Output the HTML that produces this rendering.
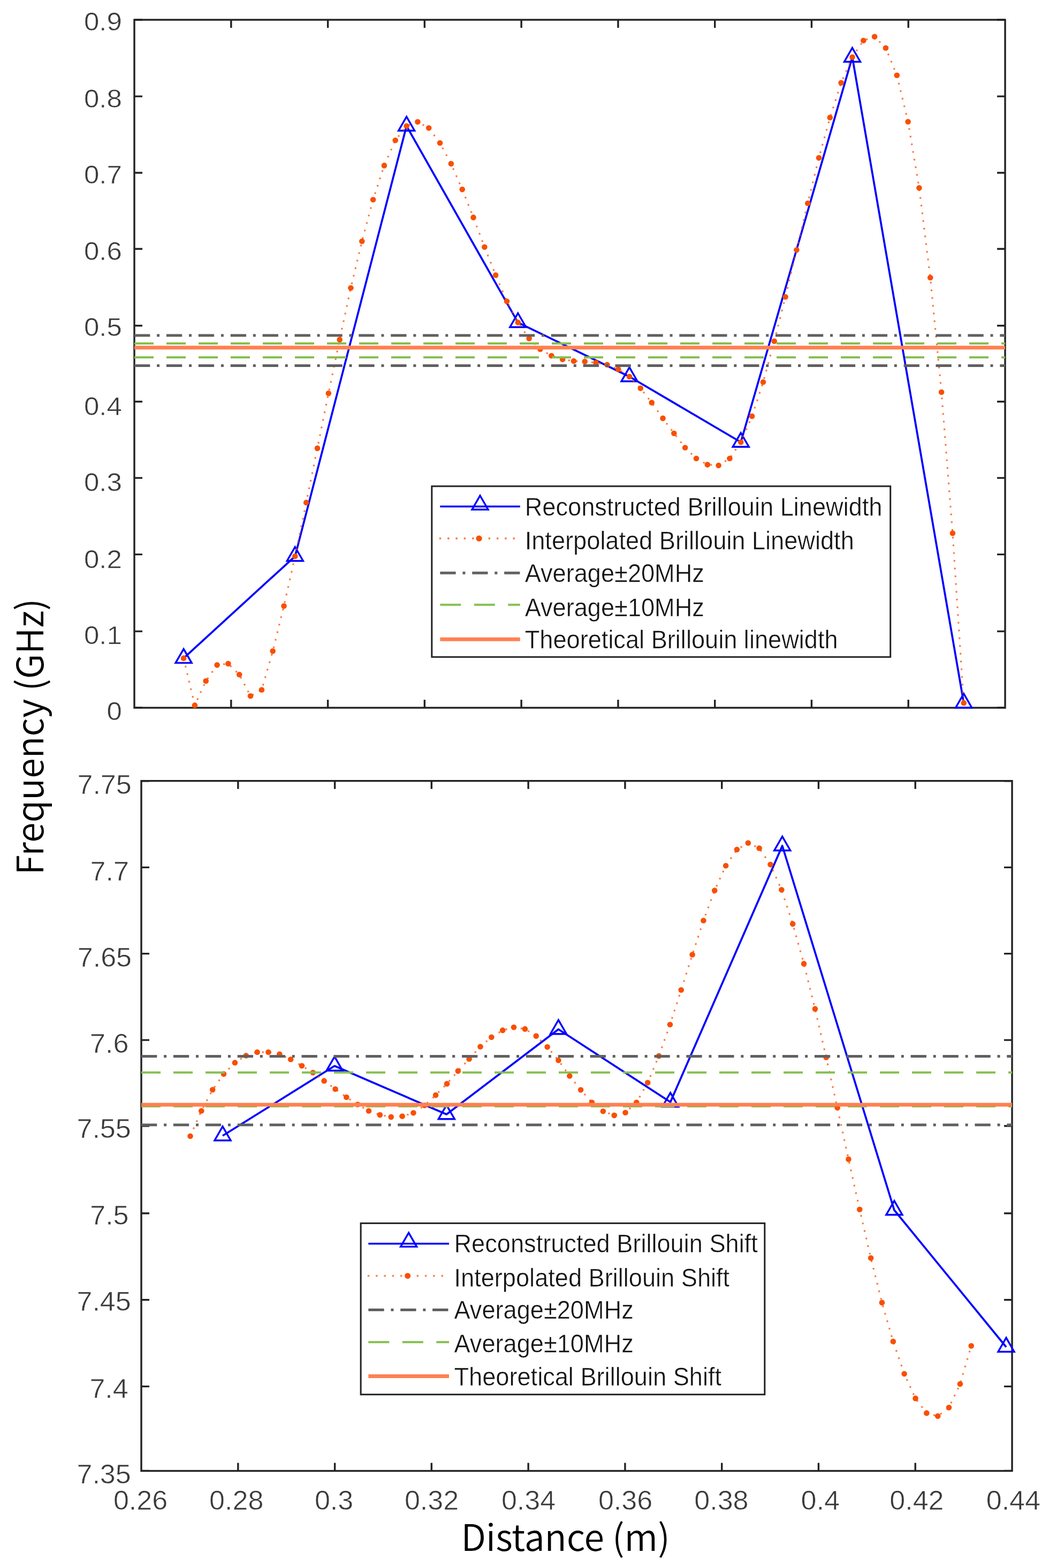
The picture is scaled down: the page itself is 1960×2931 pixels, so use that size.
<!DOCTYPE html>
<html><head><meta charset="utf-8"><title>Brillouin linewidth and shift</title>
<style>
html,body{margin:0;padding:0;background:#fff;}
svg{display:block;}
.tk{font-family:"Liberation Sans",Arial,sans-serif;fill:#3a3a3a;stroke:#fff;stroke-width:0.6px;}
.lg{font-family:"Liberation Sans",Arial,sans-serif;font-size:47.2px;fill:#111;stroke:#fff;stroke-width:0.5px;}
.ax{font-family:"Noto Sans CJK SC","Liberation Sans",sans-serif;font-weight:350;font-size:68px;fill:#000;}
</style></head>
<body>
<svg width="1960" height="2931" viewBox="0 0 1960 2931">
<rect width="1960" height="2931" fill="#fff"/>
<rect x="251.0" y="37.0" width="1627.0" height="1286.0" fill="none" stroke="#222222" stroke-width="3.4"/>
<path d="M251.0 37.0h15M1878.0 37.0h-15M251.0 180.1h15M1878.0 180.1h-15M251.0 323.0h15M1878.0 323.0h-15M251.0 465.3h15M1878.0 465.3h-15M251.0 608.8h15M1878.0 608.8h-15M251.0 750.8h15M1878.0 750.8h-15M251.0 893.4h15M1878.0 893.4h-15M251.0 1036.4h15M1878.0 1036.4h-15M251.0 1180.1h15M1878.0 1180.1h-15M251.0 1322.6h15M1878.0 1322.6h-15M431.8 1323.0v-15M431.8 37.0v15M612.6 1323.0v-15M612.6 37.0v15M793.3 1323.0v-15M793.3 37.0v15M974.1 1323.0v-15M974.1 37.0v15M1154.9 1323.0v-15M1154.9 37.0v15M1335.7 1323.0v-15M1335.7 37.0v15M1516.4 1323.0v-15M1516.4 37.0v15M1697.2 1323.0v-15M1697.2 37.0v15" stroke="#222222" stroke-width="3.4" fill="none"/>
<polyline points="343.1,1230.4 551.3,1039.8 759.6,235.5 967.8,602.8 1176.0,704.0 1384.2,826.5 1592.5,106.8 1800.7,1314.0" fill="none" stroke="#0000FF" stroke-width="3.7" stroke-linejoin="round"/>
<path d="M343.1 1213.1L358.1 1239.1L328.1 1239.1Z" fill="none" stroke="#0000FF" stroke-width="3.4" stroke-linejoin="miter"/>
<path d="M551.3 1022.5L566.3 1048.5L536.3 1048.5Z" fill="none" stroke="#0000FF" stroke-width="3.4" stroke-linejoin="miter"/>
<path d="M759.6 218.2L774.6 244.2L744.6 244.2Z" fill="none" stroke="#0000FF" stroke-width="3.4" stroke-linejoin="miter"/>
<path d="M967.8 585.5L982.8 611.5L952.8 611.5Z" fill="none" stroke="#0000FF" stroke-width="3.4" stroke-linejoin="miter"/>
<path d="M1176.0 686.7L1191.0 712.7L1161.0 712.7Z" fill="none" stroke="#0000FF" stroke-width="3.4" stroke-linejoin="miter"/>
<path d="M1384.2 809.2L1399.2 835.2L1369.2 835.2Z" fill="none" stroke="#0000FF" stroke-width="3.4" stroke-linejoin="miter"/>
<path d="M1592.5 89.5L1607.5 115.5L1577.5 115.5Z" fill="none" stroke="#0000FF" stroke-width="3.4" stroke-linejoin="miter"/>
<path d="M1800.7 1296.7L1815.7 1322.7L1785.7 1322.7Z" fill="none" stroke="#0000FF" stroke-width="3.4" stroke-linejoin="miter"/>
<polyline points="343.1,1230.4 363.9,1318.4 384.7,1273.0 405.6,1243.1 426.4,1240.6 447.2,1261.0 468.0,1301.0 488.9,1289.5 509.7,1217.1 530.5,1132.7 551.3,1039.8 572.2,939.4 593.0,837.9 613.8,735.2 634.6,634.9 655.4,538.2 676.3,451.0 697.1,373.2 717.9,309.4 738.7,262.2 759.6,235.5 780.4,227.8 801.2,239.3 822.0,267.3 842.8,306.1 863.7,354.1 884.5,406.4 905.3,461.7 926.1,514.3 947.0,563.3 967.8,602.8 988.6,632.8 1009.4,652.7 1030.3,665.0 1051.1,671.8 1071.9,674.9 1092.7,675.7 1113.5,678.0 1134.4,681.8 1155.2,690.2 1176.0,704.0 1196.8,725.8 1217.7,752.6 1238.5,781.9 1259.3,810.0 1280.1,836.7 1301.0,857.0 1321.8,868.6 1342.6,870.0 1363.4,857.0 1384.2,826.5 1405.1,778.0 1425.9,714.3 1446.7,637.8 1467.5,555.0 1488.4,467.2 1509.2,380.0 1530.0,295.1 1550.8,219.8 1571.6,154.8 1592.5,106.8 1613.3,75.7 1634.1,68.6 1654.9,89.7 1675.8,140.8 1696.6,227.5 1717.4,351.2 1738.2,519.0 1759.1,733.0 1779.9,996.7 1800.7,1314.0" fill="none" stroke="#F84F00" stroke-opacity="0.75" stroke-width="3.2" stroke-dasharray="3.2 11.3"/>
<g fill="#F84F00"><circle cx="343.1" cy="1230.4" r="5.3"/><circle cx="363.9" cy="1318.4" r="5.3"/><circle cx="384.7" cy="1273.0" r="5.3"/><circle cx="405.6" cy="1243.1" r="5.3"/><circle cx="426.4" cy="1240.6" r="5.3"/><circle cx="447.2" cy="1261.0" r="5.3"/><circle cx="468.0" cy="1301.0" r="5.3"/><circle cx="488.9" cy="1289.5" r="5.3"/><circle cx="509.7" cy="1217.1" r="5.3"/><circle cx="530.5" cy="1132.7" r="5.3"/><circle cx="551.3" cy="1039.8" r="5.3"/><circle cx="572.2" cy="939.4" r="5.3"/><circle cx="593.0" cy="837.9" r="5.3"/><circle cx="613.8" cy="735.2" r="5.3"/><circle cx="634.6" cy="634.9" r="5.3"/><circle cx="655.4" cy="538.2" r="5.3"/><circle cx="676.3" cy="451.0" r="5.3"/><circle cx="697.1" cy="373.2" r="5.3"/><circle cx="717.9" cy="309.4" r="5.3"/><circle cx="738.7" cy="262.2" r="5.3"/><circle cx="759.6" cy="235.5" r="5.3"/><circle cx="780.4" cy="227.8" r="5.3"/><circle cx="801.2" cy="239.3" r="5.3"/><circle cx="822.0" cy="267.3" r="5.3"/><circle cx="842.8" cy="306.1" r="5.3"/><circle cx="863.7" cy="354.1" r="5.3"/><circle cx="884.5" cy="406.4" r="5.3"/><circle cx="905.3" cy="461.7" r="5.3"/><circle cx="926.1" cy="514.3" r="5.3"/><circle cx="947.0" cy="563.3" r="5.3"/><circle cx="967.8" cy="602.8" r="5.3"/><circle cx="988.6" cy="632.8" r="5.3"/><circle cx="1009.4" cy="652.7" r="5.3"/><circle cx="1030.3" cy="665.0" r="5.3"/><circle cx="1051.1" cy="671.8" r="5.3"/><circle cx="1071.9" cy="674.9" r="5.3"/><circle cx="1092.7" cy="675.7" r="5.3"/><circle cx="1113.5" cy="678.0" r="5.3"/><circle cx="1134.4" cy="681.8" r="5.3"/><circle cx="1155.2" cy="690.2" r="5.3"/><circle cx="1176.0" cy="704.0" r="5.3"/><circle cx="1196.8" cy="725.8" r="5.3"/><circle cx="1217.7" cy="752.6" r="5.3"/><circle cx="1238.5" cy="781.9" r="5.3"/><circle cx="1259.3" cy="810.0" r="5.3"/><circle cx="1280.1" cy="836.7" r="5.3"/><circle cx="1301.0" cy="857.0" r="5.3"/><circle cx="1321.8" cy="868.6" r="5.3"/><circle cx="1342.6" cy="870.0" r="5.3"/><circle cx="1363.4" cy="857.0" r="5.3"/><circle cx="1384.2" cy="826.5" r="5.3"/><circle cx="1405.1" cy="778.0" r="5.3"/><circle cx="1425.9" cy="714.3" r="5.3"/><circle cx="1446.7" cy="637.8" r="5.3"/><circle cx="1467.5" cy="555.0" r="5.3"/><circle cx="1488.4" cy="467.2" r="5.3"/><circle cx="1509.2" cy="380.0" r="5.3"/><circle cx="1530.0" cy="295.1" r="5.3"/><circle cx="1550.8" cy="219.8" r="5.3"/><circle cx="1571.6" cy="154.8" r="5.3"/><circle cx="1592.5" cy="106.8" r="5.3"/><circle cx="1613.3" cy="75.7" r="5.3"/><circle cx="1634.1" cy="68.6" r="5.3"/><circle cx="1654.9" cy="89.7" r="5.3"/><circle cx="1675.8" cy="140.8" r="5.3"/><circle cx="1696.6" cy="227.5" r="5.3"/><circle cx="1717.4" cy="351.2" r="5.3"/><circle cx="1738.2" cy="519.0" r="5.3"/><circle cx="1759.1" cy="733.0" r="5.3"/><circle cx="1779.9" cy="996.7" r="5.3"/><circle cx="1800.7" cy="1314.0" r="5.3"/></g>
<line x1="251.0" y1="627.0" x2="1878.0" y2="627.0" stroke="#606060" stroke-width="5" stroke-dasharray="29.3 12.8 5 12.8"/>
<line x1="251.0" y1="683.5" x2="1878.0" y2="683.5" stroke="#606060" stroke-width="5" stroke-dasharray="29.3 12.8 5 12.8"/>
<line x1="251.0" y1="641.9" x2="1878.0" y2="641.9" stroke="#86BF50" stroke-width="4" stroke-dasharray="36 24"/>
<line x1="251.0" y1="668.0" x2="1878.0" y2="668.0" stroke="#86BF50" stroke-width="4" stroke-dasharray="36 24"/>
<line x1="251.0" y1="649.8" x2="1878.0" y2="649.8" stroke="#FF8050" stroke-width="7"/>
<text transform="translate(227.8,57.4) scale(1.04,1)" class="tk" font-size="49" text-anchor="end">0.9</text>
<text transform="translate(227.8,200.8) scale(1.04,1)" class="tk" font-size="49" text-anchor="end">0.8</text>
<text transform="translate(227.8,342.9) scale(1.04,1)" class="tk" font-size="49" text-anchor="end">0.7</text>
<text transform="translate(227.8,485.7) scale(1.04,1)" class="tk" font-size="49" text-anchor="end">0.6</text>
<text transform="translate(227.8,628.2) scale(1.04,1)" class="tk" font-size="49" text-anchor="end">0.5</text>
<text transform="translate(227.8,775.8) scale(1.04,1)" class="tk" font-size="49" text-anchor="end">0.4</text>
<text transform="translate(227.8,917.9) scale(1.04,1)" class="tk" font-size="49" text-anchor="end">0.3</text>
<text transform="translate(227.8,1061.7) scale(1.04,1)" class="tk" font-size="49" text-anchor="end">0.2</text>
<text transform="translate(227.8,1203.9) scale(1.04,1)" class="tk" font-size="49" text-anchor="end">0.1</text>
<text transform="translate(227.8,1345.9) scale(1.04,1)" class="tk" font-size="49" text-anchor="end">0</text>
<rect x="806.8" y="908.9" width="856.9" height="319.2" fill="#fff" stroke="#222222" stroke-width="3"/>
<line x1="822.3" y1="946.8" x2="971.7" y2="946.8" stroke="#0000FF" stroke-width="3.5"/>
<path d="M897.0 926.5L912.0 952.5L882.0 952.5Z" fill="none" stroke="#0000FF" stroke-width="3.4" stroke-linejoin="miter"/>
<line x1="820.8" y1="1006.5" x2="963.3" y2="1006.5" stroke="#F84F00" stroke-opacity="0.75" stroke-width="3.4" stroke-dasharray="3.4 11.9"/>
<circle cx="895.0" cy="1006.5" r="5.5" fill="#F84F00"/>
<line x1="822.3" y1="1071.0" x2="971.7" y2="1071.0" stroke="#606060" stroke-width="5" stroke-dasharray="29.3 12.8 5 12.8"/>
<line x1="822.3" y1="1130.6" x2="971.7" y2="1130.6" stroke="#86BF50" stroke-width="4" stroke-dasharray="39 24.5"/>
<line x1="822.3" y1="1195.0" x2="971.7" y2="1195.0" stroke="#FF8050" stroke-width="7"/>
<text transform="translate(980.7,964.0) scale(0.957,1)" class="lg">Reconstructed Brillouin Linewidth</text>
<text transform="translate(980.7,1027.1) scale(0.957,1)" class="lg">Interpolated Brillouin Linewidth</text>
<text transform="translate(980.7,1087.8) scale(0.957,1)" class="lg">Average&#177;20MHz</text>
<text transform="translate(980.7,1151.6) scale(0.957,1)" class="lg">Average&#177;10MHz</text>
<text transform="translate(980.7,1211.6) scale(0.957,1)" class="lg">Theoretical Brillouin linewidth</text>
<rect x="264.0" y="1459.7" width="1627.0" height="1289.8" fill="none" stroke="#222222" stroke-width="3.4"/>
<path d="M264.0 1459.7h15M1891.0 1459.7h-15M264.0 1621.4h15M1891.0 1621.4h-15M264.0 1782.6h15M1891.0 1782.6h-15M264.0 1944.1h15M1891.0 1944.1h-15M264.0 2104.7h15M1891.0 2104.7h-15M264.0 2268.0h15M1891.0 2268.0h-15M264.0 2429.8h15M1891.0 2429.8h-15M264.0 2591.6h15M1891.0 2591.6h-15M264.0 2749.4h15M1891.0 2749.4h-15M444.8 2749.5v-15M444.8 1459.7v15M625.6 2749.5v-15M625.6 1459.7v15M806.3 2749.5v-15M806.3 1459.7v15M987.1 2749.5v-15M987.1 1459.7v15M1167.9 2749.5v-15M1167.9 1459.7v15M1348.7 2749.5v-15M1348.7 1459.7v15M1529.4 2749.5v-15M1529.4 1459.7v15M1710.2 2749.5v-15M1710.2 1459.7v15" stroke="#222222" stroke-width="3.4" fill="none"/>
<polyline points="416.0,2123.0 625.1,1992.5 834.3,2083.0 1043.4,1924.0 1252.6,2060.0 1461.7,1581.0 1670.9,2262.0 1880.0,2518.0" fill="none" stroke="#0000FF" stroke-width="3.7" stroke-linejoin="round"/>
<path d="M416.0 2105.7L431.0 2131.7L401.0 2131.7Z" fill="none" stroke="#0000FF" stroke-width="3.4" stroke-linejoin="miter"/>
<path d="M625.1 1975.2L640.1 2001.2L610.1 2001.2Z" fill="none" stroke="#0000FF" stroke-width="3.4" stroke-linejoin="miter"/>
<path d="M834.3 2065.7L849.3 2091.7L819.3 2091.7Z" fill="none" stroke="#0000FF" stroke-width="3.4" stroke-linejoin="miter"/>
<path d="M1043.4 1906.7L1058.4 1932.7L1028.4 1932.7Z" fill="none" stroke="#0000FF" stroke-width="3.4" stroke-linejoin="miter"/>
<path d="M1252.6 2042.7L1267.6 2068.7L1237.6 2068.7Z" fill="none" stroke="#0000FF" stroke-width="3.4" stroke-linejoin="miter"/>
<path d="M1461.7 1563.7L1476.7 1589.7L1446.7 1589.7Z" fill="none" stroke="#0000FF" stroke-width="3.4" stroke-linejoin="miter"/>
<path d="M1670.9 2244.7L1685.9 2270.7L1655.9 2270.7Z" fill="none" stroke="#0000FF" stroke-width="3.4" stroke-linejoin="miter"/>
<path d="M1880.0 2500.7L1895.0 2526.7L1865.0 2526.7Z" fill="none" stroke="#0000FF" stroke-width="3.4" stroke-linejoin="miter"/>
<polyline points="355.5,2123.7 376.3,2076.5 397.2,2037.0 418.0,2007.6 438.9,1986.4 459.7,1973.2 480.6,1966.8 501.4,1966.8 522.3,1970.6 543.1,1980.3 564.0,1992.3 584.8,2005.0 605.6,2020.4 626.5,2035.7 647.3,2051.0 668.2,2064.5 689.0,2076.5 709.9,2084.1 730.7,2087.9 751.6,2086.6 772.4,2080.3 793.3,2066.2 814.1,2047.1 835.0,2025.9 855.8,2001.9 876.6,1979.5 897.5,1956.5 918.3,1938.7 939.2,1925.9 960.0,1920.3 980.9,1923.4 1001.7,1936.6 1022.6,1957.0 1043.4,1982.0 1064.3,2011.2 1085.1,2037.3 1105.9,2060.7 1126.8,2077.2 1147.6,2084.9 1168.5,2079.8 1189.3,2060.7 1210.2,2023.7 1231.0,1973.9 1251.9,1915.3 1272.7,1850.5 1293.6,1784.5 1314.4,1720.7 1335.2,1664.6 1356.1,1618.2 1376.9,1588.1 1397.8,1575.8 1418.6,1585.5 1439.5,1616.1 1460.3,1663.3 1481.2,1727.1 1502.0,1801.4 1522.9,1885.9 1543.7,1976.5 1564.6,2070.6 1585.4,2166.9 1606.2,2260.8 1627.1,2351.6 1647.9,2434.9 1668.8,2507.5 1689.6,2568.0 1710.5,2613.9 1731.3,2641.4 1752.2,2647.1 1773.0,2631.1 1793.9,2587.1 1814.7,2515.7" fill="none" stroke="#F84F00" stroke-opacity="0.75" stroke-width="3.2" stroke-dasharray="3.2 11.3"/>
<g fill="#F84F00"><circle cx="355.5" cy="2123.7" r="5.3"/><circle cx="376.3" cy="2076.5" r="5.3"/><circle cx="397.2" cy="2037.0" r="5.3"/><circle cx="418.0" cy="2007.6" r="5.3"/><circle cx="438.9" cy="1986.4" r="5.3"/><circle cx="459.7" cy="1973.2" r="5.3"/><circle cx="480.6" cy="1966.8" r="5.3"/><circle cx="501.4" cy="1966.8" r="5.3"/><circle cx="522.3" cy="1970.6" r="5.3"/><circle cx="543.1" cy="1980.3" r="5.3"/><circle cx="564.0" cy="1992.3" r="5.3"/><circle cx="584.8" cy="2005.0" r="5.3"/><circle cx="605.6" cy="2020.4" r="5.3"/><circle cx="626.5" cy="2035.7" r="5.3"/><circle cx="647.3" cy="2051.0" r="5.3"/><circle cx="668.2" cy="2064.5" r="5.3"/><circle cx="689.0" cy="2076.5" r="5.3"/><circle cx="709.9" cy="2084.1" r="5.3"/><circle cx="730.7" cy="2087.9" r="5.3"/><circle cx="751.6" cy="2086.6" r="5.3"/><circle cx="772.4" cy="2080.3" r="5.3"/><circle cx="793.3" cy="2066.2" r="5.3"/><circle cx="814.1" cy="2047.1" r="5.3"/><circle cx="835.0" cy="2025.9" r="5.3"/><circle cx="855.8" cy="2001.9" r="5.3"/><circle cx="876.6" cy="1979.5" r="5.3"/><circle cx="897.5" cy="1956.5" r="5.3"/><circle cx="918.3" cy="1938.7" r="5.3"/><circle cx="939.2" cy="1925.9" r="5.3"/><circle cx="960.0" cy="1920.3" r="5.3"/><circle cx="980.9" cy="1923.4" r="5.3"/><circle cx="1001.7" cy="1936.6" r="5.3"/><circle cx="1022.6" cy="1957.0" r="5.3"/><circle cx="1043.4" cy="1982.0" r="5.3"/><circle cx="1064.3" cy="2011.2" r="5.3"/><circle cx="1085.1" cy="2037.3" r="5.3"/><circle cx="1105.9" cy="2060.7" r="5.3"/><circle cx="1126.8" cy="2077.2" r="5.3"/><circle cx="1147.6" cy="2084.9" r="5.3"/><circle cx="1168.5" cy="2079.8" r="5.3"/><circle cx="1189.3" cy="2060.7" r="5.3"/><circle cx="1210.2" cy="2023.7" r="5.3"/><circle cx="1231.0" cy="1973.9" r="5.3"/><circle cx="1251.9" cy="1915.3" r="5.3"/><circle cx="1272.7" cy="1850.5" r="5.3"/><circle cx="1293.6" cy="1784.5" r="5.3"/><circle cx="1314.4" cy="1720.7" r="5.3"/><circle cx="1335.2" cy="1664.6" r="5.3"/><circle cx="1356.1" cy="1618.2" r="5.3"/><circle cx="1376.9" cy="1588.1" r="5.3"/><circle cx="1397.8" cy="1575.8" r="5.3"/><circle cx="1418.6" cy="1585.5" r="5.3"/><circle cx="1439.5" cy="1616.1" r="5.3"/><circle cx="1460.3" cy="1663.3" r="5.3"/><circle cx="1481.2" cy="1727.1" r="5.3"/><circle cx="1502.0" cy="1801.4" r="5.3"/><circle cx="1522.9" cy="1885.9" r="5.3"/><circle cx="1543.7" cy="1976.5" r="5.3"/><circle cx="1564.6" cy="2070.6" r="5.3"/><circle cx="1585.4" cy="2166.9" r="5.3"/><circle cx="1606.2" cy="2260.8" r="5.3"/><circle cx="1627.1" cy="2351.6" r="5.3"/><circle cx="1647.9" cy="2434.9" r="5.3"/><circle cx="1668.8" cy="2507.5" r="5.3"/><circle cx="1689.6" cy="2568.0" r="5.3"/><circle cx="1710.5" cy="2613.9" r="5.3"/><circle cx="1731.3" cy="2641.4" r="5.3"/><circle cx="1752.2" cy="2647.1" r="5.3"/><circle cx="1773.0" cy="2631.1" r="5.3"/><circle cx="1793.9" cy="2587.1" r="5.3"/><circle cx="1814.7" cy="2515.7" r="5.3"/></g>
<line x1="264.0" y1="1974.4" x2="1891.0" y2="1974.4" stroke="#606060" stroke-width="5" stroke-dasharray="29.3 12.8 5 12.8"/>
<line x1="264.0" y1="2102.8" x2="1891.0" y2="2102.8" stroke="#606060" stroke-width="5" stroke-dasharray="29.3 12.8 5 12.8"/>
<line x1="264.0" y1="2004.8" x2="1891.0" y2="2004.8" stroke="#86BF50" stroke-width="4" stroke-dasharray="36 24"/>
<line x1="264.0" y1="2068.0" x2="1891.0" y2="2068.0" stroke="#86BF50" stroke-width="4" stroke-dasharray="36 24"/>
<line x1="264.0" y1="2065.0" x2="1891.0" y2="2065.0" stroke="#FF8050" stroke-width="7"/>
<text transform="translate(245.7,1484.2) scale(1.04,1)" class="tk" font-size="50" text-anchor="end">7.75</text>
<text transform="translate(240.9,1646.4) scale(1.04,1)" class="tk" font-size="50" text-anchor="end">7.7</text>
<text transform="translate(246.0,1806.5) scale(1.04,1)" class="tk" font-size="50" text-anchor="end">7.65</text>
<text transform="translate(240.4,1968.2) scale(1.04,1)" class="tk" font-size="50" text-anchor="end">7.6</text>
<text transform="translate(244.7,2127.3) scale(1.04,1)" class="tk" font-size="50" text-anchor="end">7.55</text>
<text transform="translate(240.5,2288.6) scale(1.04,1)" class="tk" font-size="50" text-anchor="end">7.5</text>
<text transform="translate(244.7,2449.8) scale(1.04,1)" class="tk" font-size="50" text-anchor="end">7.45</text>
<text transform="translate(239.7,2612.5) scale(1.04,1)" class="tk" font-size="50" text-anchor="end">7.4</text>
<text transform="translate(244.7,2773.1) scale(1.04,1)" class="tk" font-size="50" text-anchor="end">7.35</text>
<text transform="translate(262.5,2822.4) scale(1.04,1)" class="tk" font-size="50" text-anchor="middle">0.26</text>
<text transform="translate(441.7,2822.4) scale(1.04,1)" class="tk" font-size="50" text-anchor="middle">0.28</text>
<text transform="translate(624.1,2822.4) scale(1.04,1)" class="tk" font-size="50" text-anchor="middle">0.3</text>
<text transform="translate(806.5,2822.4) scale(1.04,1)" class="tk" font-size="50" text-anchor="middle">0.32</text>
<text transform="translate(987.5,2822.4) scale(1.04,1)" class="tk" font-size="50" text-anchor="middle">0.34</text>
<text transform="translate(1168.5,2822.4) scale(1.04,1)" class="tk" font-size="50" text-anchor="middle">0.36</text>
<text transform="translate(1347.9,2822.4) scale(1.04,1)" class="tk" font-size="50" text-anchor="middle">0.38</text>
<text transform="translate(1532.7,2822.4) scale(1.04,1)" class="tk" font-size="50" text-anchor="middle">0.4</text>
<text transform="translate(1712.9,2822.4) scale(1.04,1)" class="tk" font-size="50" text-anchor="middle">0.42</text>
<text transform="translate(1893.3,2822.4) scale(1.04,1)" class="tk" font-size="50" text-anchor="middle">0.44</text>
<rect x="674.1" y="2286.6" width="754.7" height="320.1" fill="#fff" stroke="#222222" stroke-width="3"/>
<line x1="688.3" y1="2324.7" x2="839.0" y2="2324.7" stroke="#0000FF" stroke-width="3.5"/>
<path d="M763.6 2304.4L778.6 2330.4L748.6 2330.4Z" fill="none" stroke="#0000FF" stroke-width="3.4" stroke-linejoin="miter"/>
<line x1="686.8" y1="2384.9" x2="829.3" y2="2384.9" stroke="#F84F00" stroke-opacity="0.75" stroke-width="3.4" stroke-dasharray="3.4 11.9"/>
<circle cx="761.6" cy="2384.9" r="5.5" fill="#F84F00"/>
<line x1="688.3" y1="2448.4" x2="839.0" y2="2448.4" stroke="#606060" stroke-width="5" stroke-dasharray="29.3 12.8 5 12.8"/>
<line x1="688.3" y1="2508.8" x2="839.0" y2="2508.8" stroke="#86BF50" stroke-width="4" stroke-dasharray="39 24.5"/>
<line x1="688.3" y1="2572.4" x2="839.0" y2="2572.4" stroke="#FF8050" stroke-width="7"/>
<text transform="translate(848.5,2341.2) scale(0.957,1)" class="lg">Reconstructed Brillouin Shift</text>
<text transform="translate(848.5,2405.3) scale(0.957,1)" class="lg">Interpolated Brillouin Shift</text>
<text transform="translate(848.5,2464.6) scale(0.957,1)" class="lg">Average&#177;20MHz</text>
<text transform="translate(848.5,2528.1) scale(0.957,1)" class="lg">Average&#177;10MHz</text>
<text transform="translate(848.5,2590.1) scale(0.957,1)" class="lg">Theoretical Brillouin Shift</text>
<text x="861.4" y="2899.2" class="ax">Distance (m)</text>
<text transform="translate(80.5,1635.6) rotate(-90)" x="0" y="0" class="ax">Frequency (GHz)</text>
</svg>
</body></html>
